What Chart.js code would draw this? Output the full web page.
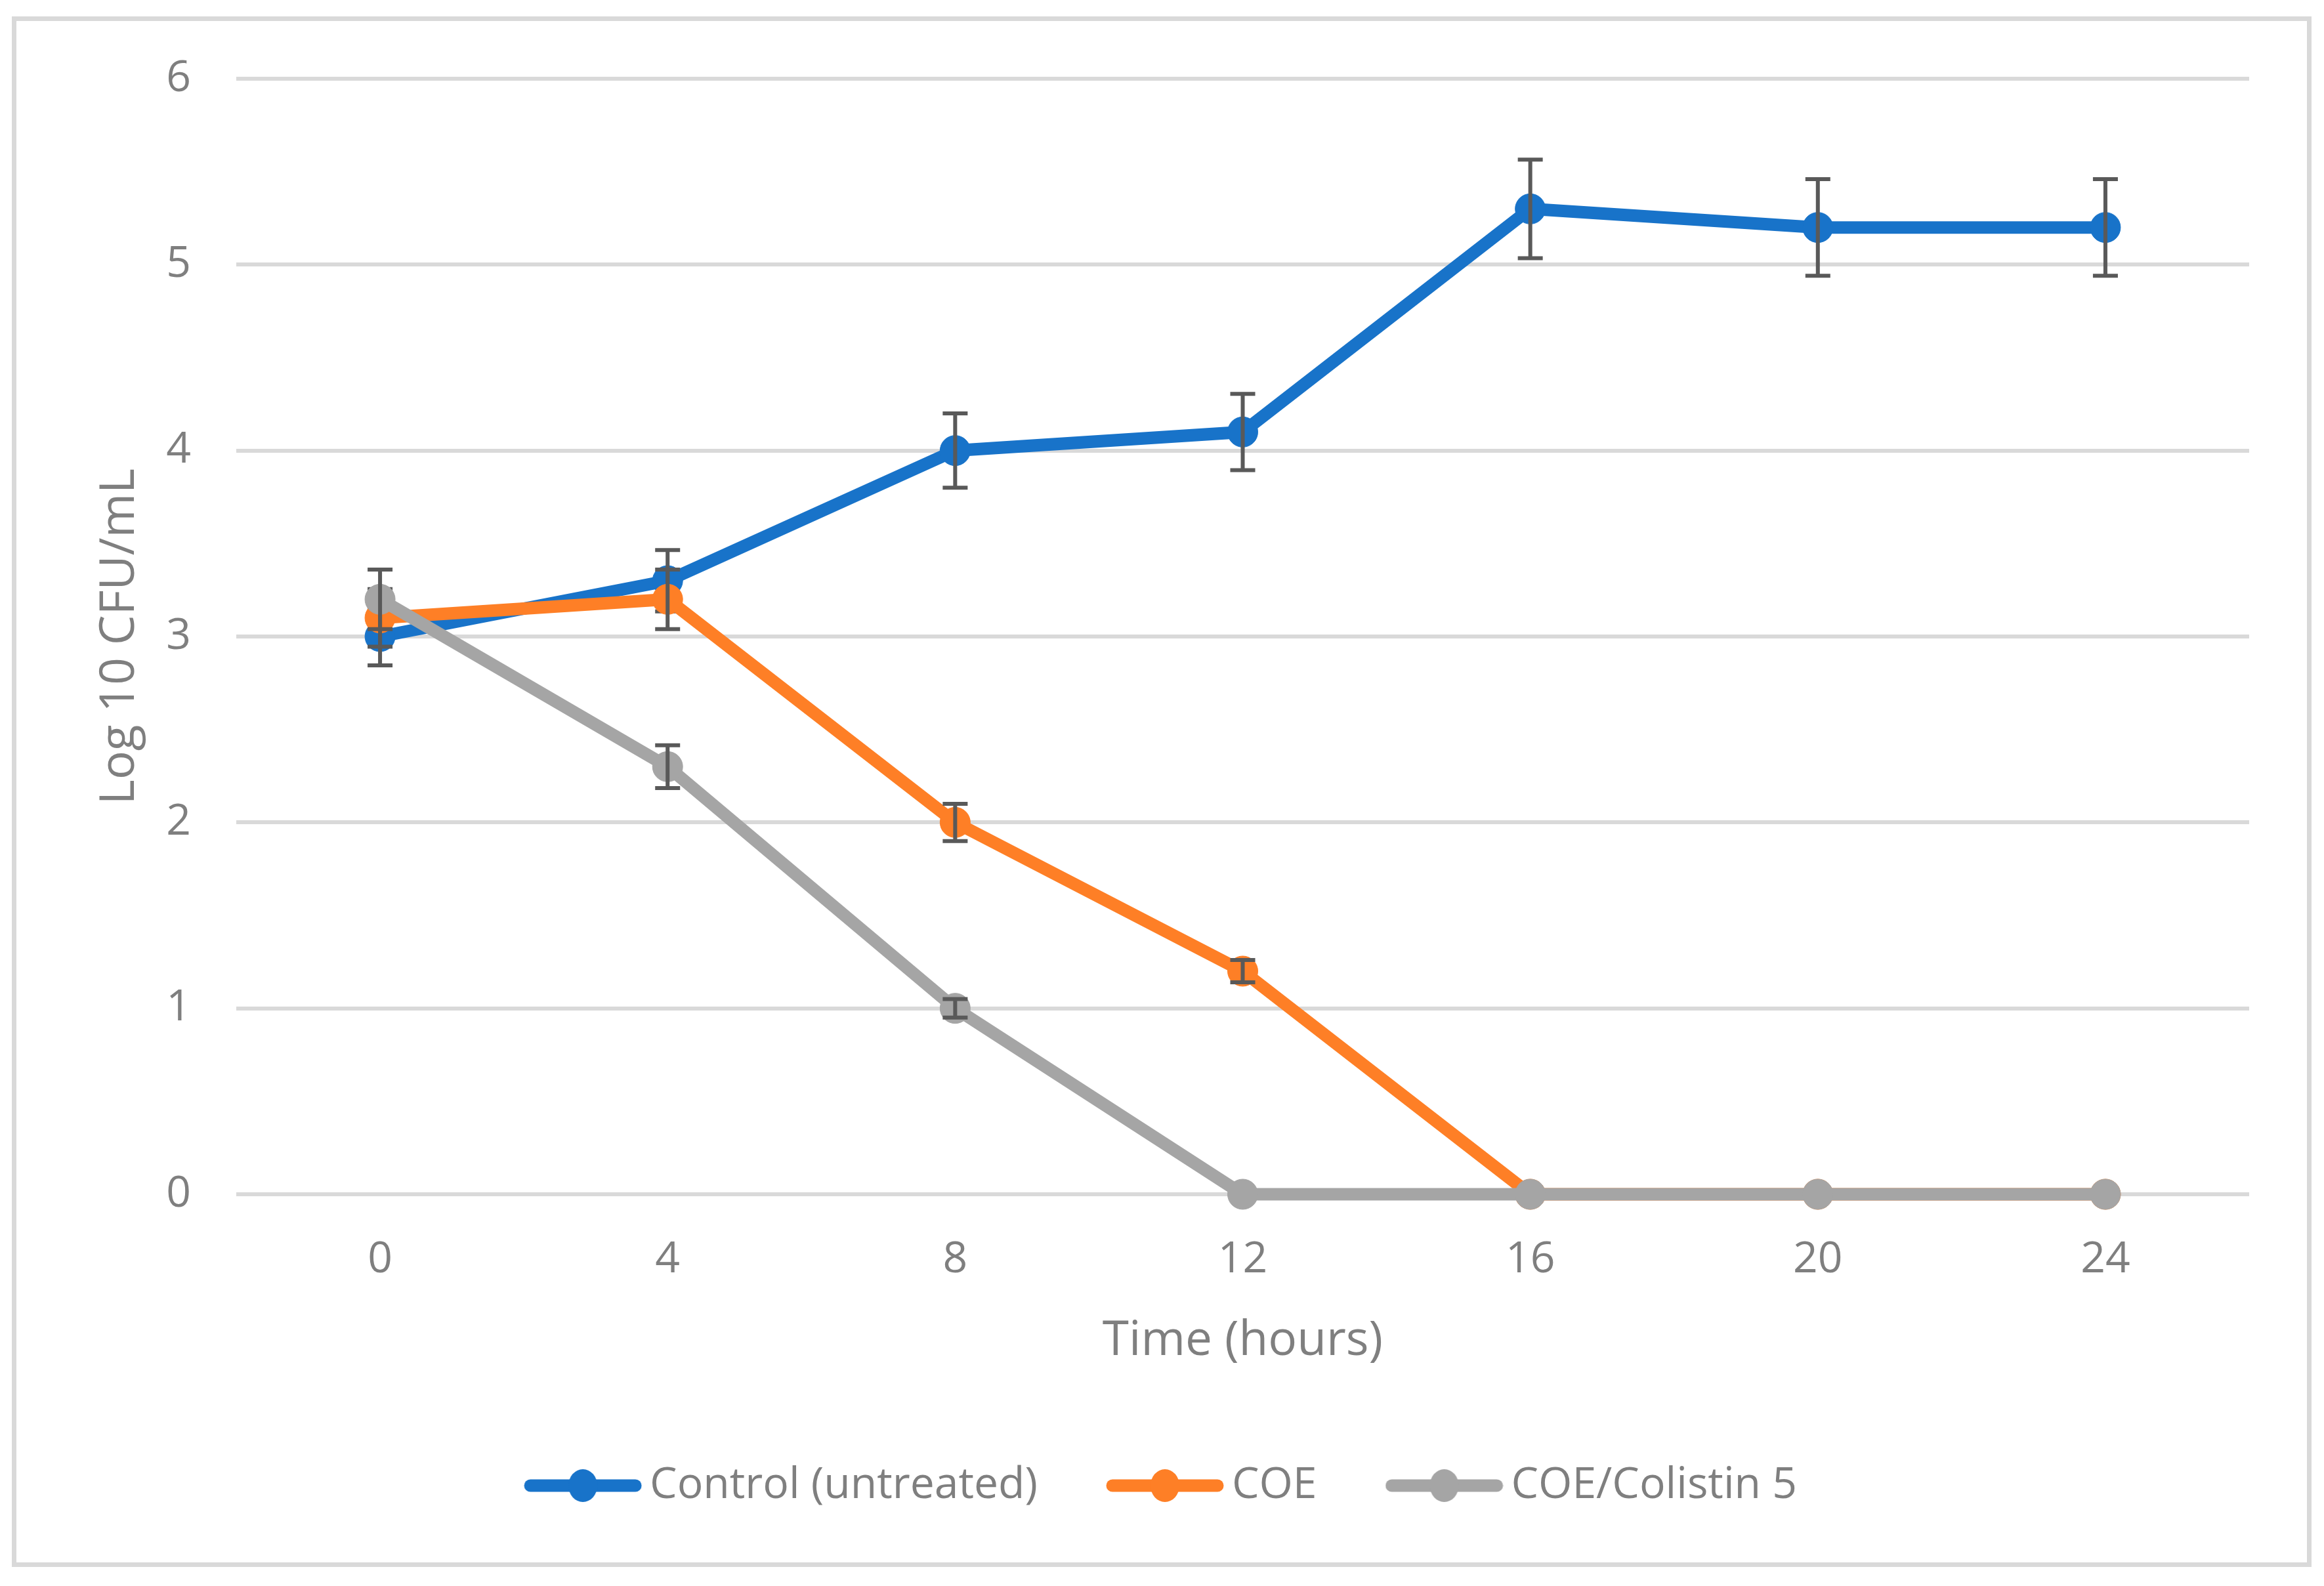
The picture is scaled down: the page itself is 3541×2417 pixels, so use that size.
<!DOCTYPE html>
<html>
<head>
<meta charset="utf-8">
<script src="https://cdn.jsdelivr.net/npm/chart.js@4.4.1/dist/chart.umd.min.js"></script>
<style>
  html, body { margin: 0; padding: 0; background: #ffffff; }
  canvas { display: block; }
</style>
</head>
<body>
<canvas id="c" width="3541" height="2417"></canvas>
<script>
// ---- Data ----
const timeLabels = ['0', '4', '8', '12', '16', '20', '24'];
const seriesNames = ['Control (untreated)', 'COE', 'COE/Colistin 5'];
const controlValues = [3.0, 3.3, 4.0, 4.1, 5.3, 5.2, 5.2];
const coeValues = [3.1, 3.2, 2.0, 1.2, 0, 0, 0];
const coeColistinValues = [3.2, 2.3, 1.0, 0, 0, 0, 0];
const controlErrors = [0.155, 0.165, 0.2, 0.205, 0.265, 0.26, 0.26];
const coeErrors = [0.155, 0.16, 0.1, 0.06, 0, 0, 0];
const coeColistinErrors = [0.16, 0.115, 0.05, 0, 0, 0, 0];
const yTicks = [0, 1, 2, 3, 4, 5, 6];

// ---- Styles ----
const colors = ['#1873C9', '#FE7F26', '#A5A5A5'];
const textColor = '#7F7F7F';
const gridColor = '#D9D9D9';
const errColor = '#595959';
const FONT = "'Open Sans', 'Noto Sans', sans-serif";

function makeLegendIcon(color) {
  const cv = document.createElement('canvas');
  cv.width = 180; cv.height = 52;
  const g = cv.getContext('2d');
  g.strokeStyle = color;
  g.lineWidth = 19;
  g.lineCap = 'round';
  g.beginPath();
  g.moveTo(10, 26); g.lineTo(170, 26);
  g.stroke();
  g.fillStyle = color;
  g.beginPath();
  g.ellipse(90, 26, 22, 25, 0, 0, Math.PI * 2);
  g.fill();
  return cv;
}
const legendIcons = colors.map(makeLegendIcon);

const errorSets = [controlErrors, coeErrors, coeColistinErrors];

const errorBarPlugin = {
  id: 'errorBars',
  afterDatasetDraw(chart, args) {
    const i = args.index;
    const errs = errorSets[i];
    if (!errs) return;
    const ds = chart.data.datasets[i];
    const xS = chart.scales.x, yS = chart.scales.y;
    const ctx = chart.ctx;
    ctx.save();
    ctx.strokeStyle = errColor;
    ctx.lineWidth = 6;
    ctx.lineCap = 'butt';
    ds.data.forEach((v, k) => {
      const e = errs[k];
      if (!e) return;
      const x = xS.getPixelForValue(k);
      const yTop = yS.getPixelForValue(v + e);
      const yBot = yS.getPixelForValue(v - e);
      const cap = 19;
      ctx.beginPath();
      ctx.moveTo(x, yTop); ctx.lineTo(x, yBot);
      ctx.moveTo(x - cap, yTop); ctx.lineTo(x + cap, yTop);
      ctx.moveTo(x - cap, yBot); ctx.lineTo(x + cap, yBot);
      ctx.stroke();
    });
    ctx.restore();
  }
};

const framePlugin = {
  id: 'frame',
  beforeDraw(chart) {
    const ctx = chart.ctx;
    ctx.save();
    ctx.fillStyle = '#ffffff';
    ctx.fillRect(0, 0, chart.width, chart.height);
    ctx.strokeStyle = gridColor;
    ctx.lineWidth = 7;
    ctx.strokeRect(21.5, 28.5, 3518.5 - 21.5, 2384.5 - 28.5);
    ctx.restore();
  }
};

function makeDataset(idx, values, order) {
  return {
    label: seriesNames[idx],
    data: values,
    borderColor: colors[idx],
    backgroundColor: colors[idx],
    pointBackgroundColor: colors[idx],
    pointBorderColor: colors[idx],
    borderWidth: 19,
    pointRadius: 23,
    pointBorderWidth: 1,
    pointHoverRadius: 23,
    tension: 0,
    fill: false,
    clip: false,
    order: order
  };
}

new Chart(document.getElementById('c'), {
  type: 'line',
  data: {
    labels: timeLabels,
    datasets: [
      makeDataset(0, controlValues, 3),
      makeDataset(1, coeValues, 2),
      makeDataset(2, coeColistinValues, 1)
    ]
  },
  options: {
    responsive: false,
    devicePixelRatio: 1,
    animation: false,
    layout: { padding: { left: 130, right: 114, top: 120, bottom: 110 } },
    plugins: {
      tooltip: { enabled: false },
      legend: {
        position: 'bottom',
        labels: {
          usePointStyle: true,
          pointStyleWidth: 138,
          padding: 125,
          color: textColor,
          font: { family: FONT, size: 66 },
          sort: (a, b) => a.datasetIndex - b.datasetIndex,
          generateLabels(chart) {
            const items = Chart.defaults.plugins.legend.labels.generateLabels(chart);
            items.forEach(it => { it.pointStyle = legendIcons[it.datasetIndex]; });
            return items;
          }
        }
      }
    },
    scales: {
      x: {
        type: 'category',
        offset: true,
        grid: { display: false, drawTicks: false },
        border: { display: false },
        ticks: { color: textColor, font: { family: FONT, size: 66 }, padding: 61, maxRotation: 0 },
        title: {
          display: true,
          text: 'Time (hours)',
          color: textColor,
          font: { family: FONT, size: 73 },
          padding: { top: 0, bottom: 18 }
        },
        afterFit(scale) { scale.height = 286; }
      },
      y: {
        min: 0,
        max: 6,
        afterBuildTicks(scale) { scale.ticks = yTicks.map(v => ({ value: v })); },
        grid: { color: gridColor, lineWidth: 6, drawTicks: false },
        border: { display: false },
        ticks: { color: textColor, font: { family: FONT, size: 66 }, padding: 69 },
        title: {
          display: true,
          text: 'Log 10 CFU/mL',
          color: textColor,
          font: { family: FONT, size: 73 },
          padding: { top: 9, bottom: 0 }
        },
        afterFit(scale) { scale.width = 230; }
      }
    }
  },
  plugins: [framePlugin, errorBarPlugin]
});
</script>
</body>
</html>
